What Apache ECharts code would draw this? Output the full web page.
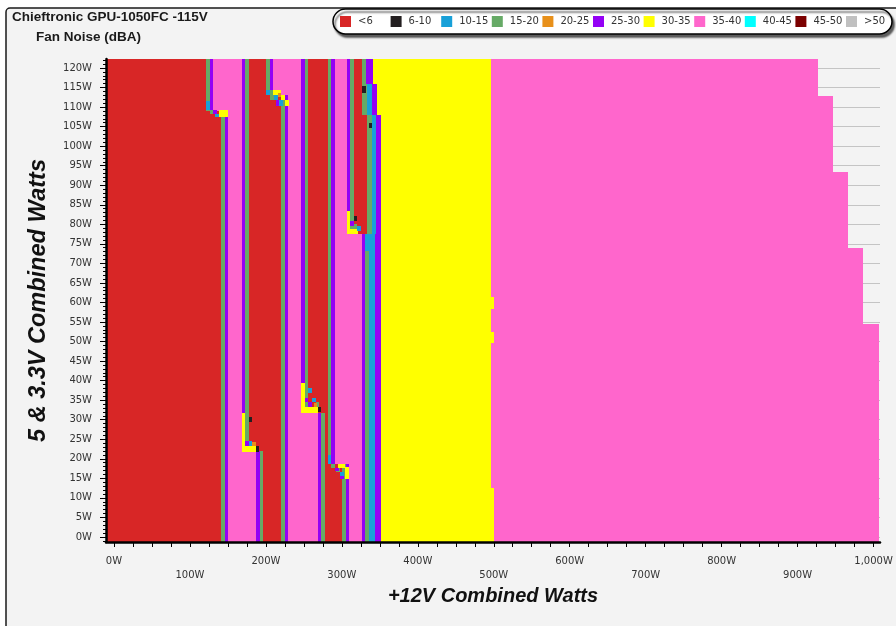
<!DOCTYPE html>
<html>
<head>
<meta charset="utf-8">
<script src="https://cdn.jsdelivr.net/npm/echarts@6/dist/echarts.min.js"></script>
<style>
  html, body { margin: 0; padding: 0; background: #fff; }
  #chart { width: 896px; height: 626px; }
</style>
</head>
<body>
<div id="chart"></div>
<script>
// noise bands (dBA) in legend order
const bandNames = ['<6', '6-10', '10-15', '15-20', '20-25', '25-30', '30-35', '35-40', '40-45', '45-50', '>50'];
const bandColors = ['#d82626', '#231f20', '#18a0d8', '#66aa66', '#e8901a', '#9400f5',
  '#ffff00', '#ff66cc', '#00ffff', '#7b0000', '#c0c0c0'];

// axis ticks (watts)
const xLabelValues = [0, 100, 200, 300, 400, 500, 600, 700, 800, 900, 1000];
const xTickValues = [0, 25, 50, 75, 100, 125, 150, 175, 200, 225, 250, 275, 300, 325, 350, 375, 400,
  425, 450, 475, 500, 525, 550, 575, 600, 625, 650, 675, 700, 725, 750, 775, 800, 825, 850, 875,
  900, 925, 950, 975, 1000];
const yLabelValues = [0, 5, 10, 15, 20, 25, 30, 35, 40, 45, 50, 55, 60, 65, 70, 75, 80, 85, 90, 95,
  100, 105, 110, 115, 120];

// edges between the <6 zone and the 35-40 zone: [from 5V watts, to 5V watts, 12V watts]
const edge1 = [[109, 122.3, 121.1], [-1.3, 109, 140.9]];     // <6 -> 35-40
const edge2 = [[22, 122.3, 168.1], [-1.3, 22, 186.9]];       // 35-40 -> <6
const edge3 = [[113.2, 122.3, 200.1], [-1.3, 113.2, 219.9]];
const edge4 = [[31.8, 122.3, 246.2], [-1.3, 31.8, 268.2]];
const edge5 = [[18.7, 122.3, 281.3], [-1.3, 18.7, 300.2]];
const edge6 = [[77.4, 122.3, 306.3], [-1.3, 77.4, 326.1]];
const STRIPE = 4.8;

// big zones: [x from, x to, y from, y to]
const zoneRed = [[-10.5, 345, -1.3, 122.3]];
const zoneYellow = [[351, 495.9, -1.3, 122.3], [495.9, 500.3, 58.4, 61.5], [495.9, 500.3, 49.5, 52.5],
  [495.9, 500.3, -1.3, 12.6]];
const zonePink = [[495.9, 926.4, 112.9, 122.3], [495.9, 946.2, 93.4, 112.9], [495.9, 966, 74, 93.4],
  [495.9, 986.4, 54.4, 74], [495.9, 1006.7, -1.3, 54.4]];

// small cells where the edges jump
const cellsYellow = [
  [138.5, 150.5, 107.4, 109.2],
  [209.7, 219.9, 113.2, 114.3], [219.9, 225.1, 111.8, 113.2], [225.1, 230.4, 110.3, 111.8],
  [306.3, 311.1, 77.4, 83.4], [311.1, 320.7, 77.4, 78.7],
  [246.2, 251, 31.8, 39.4], [251, 268.2, 31.8, 33.3],
  [168.1, 172.9, 21.8, 31.7], [172.9, 186.5, 21.8, 23.2],
  [295.2, 304.8, 17.7, 18.7], [304.8, 309.8, 14.9, 18],
  [340.7, 351, 116, 122.3], [345.8, 351, 108, 116]
];
const cellsBlack = [
  [316, 320.6, 80.8, 82.1], [268.2, 272.8, 32, 33.3],
  [177.5, 182.1, 29.5, 30.8], [186.9, 191.5, 21.8, 23.2],
  [326.1, 331.4, 113.5, 115.5], [335.2, 339.8, 104.6, 106]
];
const cellsBlue = [
  [121.1, 125.9, 109.2, 111.5], [133.3, 138.5, 107.4, 108.3],
  [200.1, 204.9, 113.2, 114.3], [210.6, 215.4, 111.8, 113.2], [217.6, 222.2, 110.3, 111.8],
  [320.2, 325, 78.2, 79.5], [330.9, 335.7, 73.2, 77.4],
  [255.8, 260.6, 36.9, 38.2], [260.6, 265.4, 34.4, 35.6],
  [177.5, 182.1, 23.2, 24.5],
  [281.3, 286.1, 18.7, 21], [297.6, 302.4, 15.7, 16.7],
  [332.7, 339.3, 108, 116], [339.2, 344.5, 77.4, 108], [335.7, 344.1, -1.3, 77.4]
];
const cellsGreen = [
  [125.9, 130.7, 108.3, 109.2],
  [204.9, 209.7, 113.2, 114.3], [206, 210.6, 111.8, 113.2],
  [315.6, 320.2, 78.7, 80],
  [251, 255.8, 35.6, 36.9], [265.4, 270, 33.3, 34.4],
  [172.9, 177.5, 24.5, 30.5],
  [286.1, 290.9, 17.7, 18.7], [292.8, 297.6, 16.7, 17.7],
  [326.1, 331.4, 116, 122.3], [326.1, 332.7, 108, 116], [333, 339.2, 77.4, 108]
];
const cellsPurple = [
  [130.7, 135.5, 108.3, 109.2],
  [213, 217.6, 110.3, 111.8],
  [311.1, 315.9, 79.5, 80.8],
  [251, 255.8, 34.4, 35.6], [255.8, 260.6, 33.3, 34.4],
  [172.9, 177.5, 23.2, 24.5],
  [290.9, 295.7, 16.9, 17.7], [297.6, 302.4, 14.9, 15.7],
  [331.4, 340.7, 116, 122.3], [339.3, 345.8, 108, 116], [344.5, 351, 77.4, 108], [344.1, 351, -1.3, 77.4]
];
const cellsOrange = [[181.9, 186.5, 23.2, 24.3], [263, 267.6, 33.3, 34.2], [215.4, 219.9, 112.5, 113.6]];

// build stripes and pink fills from the edges
const green = cellsGreen.slice();
const purple = cellsPurple.slice();
const pink = zonePink.slice();

function addStripes(edge, first, second) {
  edge.forEach(([y0, y1, x]) => {
    first.push([x, x + STRIPE, y0, y1]);
    second.push([x + STRIPE, x + 2 * STRIPE, y0, y1]);
  });
}
[edge1, edge3, edge5].forEach(e => addStripes(e, green, purple));
[edge2, edge4, edge6].forEach(e => addStripes(e, purple, green));

function fillBetween(a, b) {
  const ys = [...new Set([...a, ...b].flatMap(s => [s[0], s[1]]))].sort((p, q) => p - q);
  for (let i = 0; i < ys.length - 1; i++) {
    const m = (ys[i] + ys[i + 1]) / 2;
    const xa = a.find(s => m >= s[0] && m <= s[1])[2] + 2 * STRIPE;
    const xb = b.find(s => m >= s[0] && m <= s[1])[2];
    pink.push([xa, xb, ys[i], ys[i + 1]]);
  }
}
fillBetween(edge1, edge2);
fillBetween(edge3, edge4);
fillBetween(edge5, edge6);

const yellow = zoneYellow.concat(cellsYellow);
const seriesData = [zoneRed, cellsBlack, cellsBlue, green, cellsOrange, purple, yellow, pink, [], [], []];

function renderCell(params, api) {
  const a = api.coord([api.value(0), api.value(3)]);
  const b = api.coord([api.value(1), api.value(2)]);
  const x = Math.round(a[0]), y = Math.round(a[1]);
  const area = (api.value(1) - api.value(0)) * (api.value(3) - api.value(2));
  return {
    type: 'rect',
    z2: -area,
    shape: { x: x, y: y, width: Math.round(b[0]) - x, height: Math.round(b[1]) - y },
    style: { fill: api.visual('color') }
  };
}

const series = bandNames.map((name, i) => ({
  type: 'custom',
  name: name,
  data: seriesData[i],
  encode: { x: [0, 1], y: [2, 3] },
  itemStyle: { color: bandColors[i] },
  renderItem: renderCell,
  clip: true,
  silent: true
}));

const yMinor = [];
for (let v = -1; v <= 122; v++) yMinor.push(v);

// one legend per band so every item sits on a fixed pitch
const legends = bandNames.map((name, i) => ({
  data: [name],
  left: 340 + i * 50.6, top: 16,
  padding: 0,
  icon: 'rect', itemWidth: 11, itemHeight: 11,
  selectedMode: false,
  textStyle: { fontSize: 10, color: '#333', padding: [0, 0, 0, 2] }
}));

const titleFont = { fontFamily: 'Liberation Sans', fontSize: 20, fontWeight: 'bold', fontStyle: 'italic', color: '#111' };
const headFont = { fontFamily: 'Liberation Sans', fontSize: 13.5, fontWeight: 'bold', color: '#1a1a1a' };

const chart = echarts.init(document.getElementById('chart'));
chart.setOption({
  animation: false,
  textStyle: { fontFamily: 'DejaVu Sans' },
  graphic: [{
    type: 'rect', z: -10, silent: true,
    shape: { x: 6, y: 8, width: 900, height: 640, r: 4 },
    style: { fill: '#f3f3f3', stroke: '#1a1a1a', lineWidth: 1.5 }
  }, {
    type: 'rect', z: 0, silent: true,
    shape: { x: 333, y: 9, width: 559, height: 25, r: 12.5 },
    style: { fill: '#fff', stroke: '#000', lineWidth: 1.5, shadowColor: 'rgba(0,0,0,0.6)', shadowBlur: 2, shadowOffsetX: 2, shadowOffsetY: 3 }
  }],
  title: [
    { text: 'Chieftronic GPU-1050FC -115V', left: 12, top: 10, padding: 0, textStyle: headFont },
    { text: 'Fan Noise (dBA)', left: 36, top: 30, padding: 0, textStyle: headFont }
  ],
  legend: legends,
  grid: { left: 106, right: 16, top: 59, bottom: 84 },
  xAxis: {
    type: 'value', min: -10.5, max: 1008.5, z: 10,
    name: '+12V Combined Watts', nameLocation: 'middle', nameGap: 39, nameTextStyle: titleFont,
    axisLine: { show: true, onZero: false, lineStyle: { color: '#000', width: 2.5 } },
    axisTick: { show: true, length: 5, customValues: xTickValues, lineStyle: { color: '#000' } },
    axisLabel: {
      customValues: xLabelValues, margin: 12, fontSize: 10, lineHeight: 14, color: '#333',
      formatter: v => {
        const t = v.toLocaleString('en-US') + 'W';
        return (v / 100) % 2 === 1 ? '\n' + t : t;
      }
    },
    splitLine: { show: false }
  },
  yAxis: [{
    type: 'value', min: -1.3, max: 122.3, z: 10, position: 'left',
    name: '5 & 3.3V Combined Watts', nameLocation: 'middle', nameGap: 56,
    nameTextStyle: Object.assign({}, titleFont, { fontSize: 23.5 }),
    axisLine: { show: true, onZero: false, lineStyle: { color: '#000', width: 2.5 } },
    axisTick: { show: true, length: 6, customValues: yLabelValues, lineStyle: { color: '#000' } },
    axisLabel: { customValues: yLabelValues, margin: 14, fontSize: 10, color: '#333', formatter: v => v + 'W' },
    splitLine: { show: false }
  }, {
    type: 'value', min: -1.3, max: 122.3, z: 0, position: 'left',
    axisLine: { show: false, onZero: false },
    axisTick: { show: false, customValues: yLabelValues },
    axisLabel: { show: false, customValues: yLabelValues },
    splitLine: { show: true, lineStyle: { color: '#c4c4c4', width: 1 } }
  }, {
    type: 'value', min: -1.3, max: 122.3, z: 10, position: 'left', offset: 0,
    axisLine: { show: false, onZero: false },
    axisTick: { show: true, length: 3, customValues: yMinor, lineStyle: { color: '#000' } },
    axisLabel: { show: false },
    splitLine: { show: false }
  }],
  series: series
});
</script>
</body>
</html>
